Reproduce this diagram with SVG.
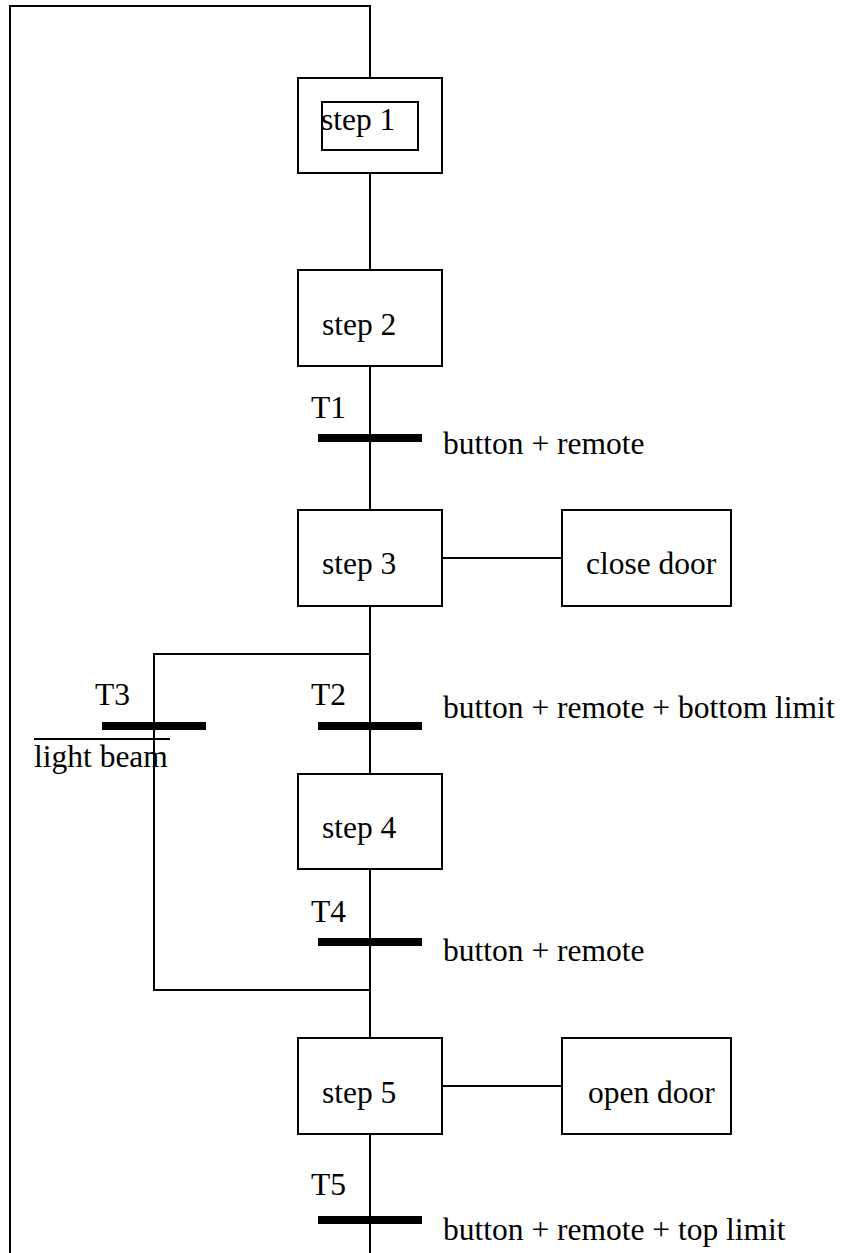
<svg xmlns="http://www.w3.org/2000/svg" width="849" height="1253" viewBox="0 0 849 1253">
<style>
.box{fill:#fff;stroke:#000;stroke-width:2}
.ln{fill:none;stroke:#000;stroke-width:2}
.bar{fill:#000;stroke:none}
text{font-family:"Liberation Serif","Times New Roman",serif;font-size:31.5px;fill:#000}
</style>
<rect width="849" height="1253" fill="#fff"/>
<g id="connectors">
<path class="ln" d="M370,78 V6 H10 V1253"/>
<line class="ln" x1="370" y1="173" x2="370" y2="270"/>
<line class="ln" x1="370" y1="366" x2="370" y2="510"/>
<line class="ln" x1="370" y1="606" x2="370" y2="774"/>
<line class="ln" x1="370" y1="869" x2="370" y2="1038"/>
<line class="ln" x1="370" y1="1134" x2="370" y2="1253"/>
<path class="ln" d="M370,654 H154 V990 H370"/>
<line class="ln" x1="442" y1="558" x2="562" y2="558"/>
<line class="ln" x1="442" y1="1086" x2="562" y2="1086"/>
</g>
<g id="step1">
<rect class="box" x="298" y="78" width="144" height="95"/>
<rect class="box" x="322" y="102" width="96" height="48"/>
<text x="321" y="130">step 1</text>
</g>
<g id="step2">
<rect class="box" x="298" y="270" width="144" height="96"/>
<text x="322" y="335">step 2</text>
</g>
<g id="T1">
<rect class="bar" x="318" y="434" width="104" height="8"/>
<text x="311" y="418">T1</text>
<text x="443" y="454">button + remote</text>
</g>
<g id="step3">
<rect class="box" x="298" y="510" width="144" height="96"/>
<text x="322" y="574">step 3</text>
</g>
<g id="close-door">
<rect class="box" x="562" y="510" width="169" height="96"/>
<text x="586" y="574">close door</text>
</g>
<g id="T2">
<rect class="bar" x="318" y="722" width="104" height="8"/>
<text x="311" y="705">T2</text>
<text x="443" y="718">button + remote + bottom limit</text>
</g>
<g id="T3">
<rect class="bar" x="102" y="722" width="104" height="8"/>
<text x="95" y="705">T3</text>
<line class="ln" x1="34" y1="739" x2="170" y2="739"/>
<text x="34" y="767">light beam</text>
</g>
<g id="step4">
<rect class="box" x="298" y="774" width="144" height="95"/>
<text x="322" y="838">step 4</text>
</g>
<g id="T4">
<rect class="bar" x="318" y="938" width="104" height="8"/>
<text x="311" y="922">T4</text>
<text x="443" y="961">button + remote</text>
</g>
<g id="step5">
<rect class="box" x="298" y="1038" width="144" height="96"/>
<text x="322" y="1103">step 5</text>
</g>
<g id="open-door">
<rect class="box" x="562" y="1038" width="169" height="96"/>
<text x="588" y="1103">open door</text>
</g>
<g id="T5">
<rect class="bar" x="318" y="1216" width="104" height="8"/>
<text x="311" y="1195">T5</text>
<text x="443" y="1240">button + remote + top limit</text>
</g>
</svg>
